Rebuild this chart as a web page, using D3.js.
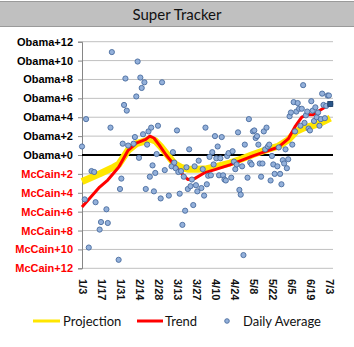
<!DOCTYPE html>
<html>
<head>
<meta charset="utf-8">
<script src="https://cdn.jsdelivr.net/npm/d3@7"></script>
<style>
	body { margin: 0; background: #fff; }
	svg { display: block; }
</style>
</head>
<body>
<div id="graphic-wrapper"></div>
<script>
/* global d3 */

// daily averages, margin in points (positive = Obama ahead, negative = McCain ahead)
const dailyDates = [
	"1/2", "1/4", "1/5", "1/7", "1/9", "1/11", "1/12", "1/15", "1/16", "1/20", "1/21", "1/23", "1/24", "1/29", "1/30", "1/31",
	"2/1", "2/2", "2/3", "2/4", "2/5", "2/9", "2/10", "2/11", "2/12", "2/13", "2/14", "2/15", "2/16", "2/17", "2/18", "2/19", "2/20", "2/21", "2/22", "2/23", "2/24", "2/25", "2/26", "2/27", "2/29",
	"3/1", "3/3", "3/6", "3/8", "3/9", "3/10", "3/11", "3/12", "3/13", "3/14", "3/15", "3/16", "3/17", "3/18", "3/19", "3/20", "3/21", "3/22", "3/23", "3/24", "3/25", "3/26", "3/27", "3/28", "3/30", "3/31",
	"4/1", "4/2", "4/3", "4/4", "4/5", "4/6", "4/7", "4/8", "4/9", "4/10", "4/11", "4/12", "4/13", "4/14", "4/15", "4/16", "4/17", "4/18", "4/19", "4/21", "4/22", "4/23", "4/24", "4/25", "4/26", "4/27", "4/28", "4/29", "4/30",
	"5/1", "5/3", "5/4", "5/5", "5/6", "5/7", "5/8", "5/9", "5/10", "5/11", "5/12", "5/13", "5/14", "5/15", "5/16", "5/17", "5/18", "5/19", "5/20", "5/21", "5/22", "5/23", "5/25", "5/26", "5/27", "5/28", "5/29", "5/30", "5/31",
	"6/1", "6/2", "6/3", "6/4", "6/5", "6/6", "6/7", "6/8", "6/9", "6/10", "6/11", "6/12", "6/13", "6/14", "6/15", "6/16", "6/17", "6/18", "6/19", "6/20", "6/21", "6/22", "6/23", "6/24", "6/25", "6/26", "6/27", "6/28", "6/29", "6/30",
	"7/1", "7/2", "7/3",
]
const dailyValues = [
	0.9, -4.7, 3.8, -9.8, -1.7, -1.8, -5.0, -7.9, -7.1, -5.75, -7.2, 2.9, 10.9, -11.1, -3.6, -2.5,
	1.2, 5.3, 8.1, 4.7, 1.0, 1.2, 1.9, 6.2, 9.9, -0.3, 8.2, 7.1, 2.2, 7.7, -3.6, 1.1, 2.5, -2.3, 2.9, -1.1, -3.85, -1.9, 0.1, 3.1, -4.6,
	7.7, -1.6, -4.3, -1.2, 0.3, -0.8, -1.4, 2.6, -1.8, -4.1, -1.7, -7.4, -2.3, -5.9, -1.3, -3.6, 0.6, -3.3, -2.6, -5.3, -1.2, -3.2, -3.85, -0.6, -3.5, -1.5,
	-4.3, 2.9, -3.1, -2.2, -0.2, -2.15, 0.3, -1.0, 2.0, -0.35, 0.9, -2.15, -0.35, 1.9, -2.15, -2.6, -2.7, -0.1, 0.2, -2.4, 0.4, -0.7, -1.5, -1.0, 2.4, -3.7, -4.2, -1.2, -10.6,
	1.1, -2.4, 3.8, -0.8, -1.0, 2.5, 2.6, 1.8, 2.0, 1.1, -0.9, -2.3, -0.9, 2.5, 0.6, 2.9, 0.9, 1.1, -2.7, -0.1, -1.0, -2.0, -1.2, 0.8, -2.0, -3.1, -0.55, -0.9, 0.6,
	-1.4, -0.45, 4.1, 4.5, 1.1, 5.6, 2.5, 4.6, 5.5, 4.9, 3.1, 4.9, 7.4, 3.4, 4.2, 4.6, 2.8, 2.6, 5.7, 4.7, 3.6, 5.05, 4.0, 4.5, 3.1, 3.8, 6.5, 5.3, 3.9, 5.2,
	6.3, 6.3, 5.4,
]

const trendDates = ["1/2", "1/15", "1/21", "1/29", "2/5", "2/11", "2/18", "2/21", "2/24", "2/28", "3/4", "3/10", "3/15", "3/20", "3/25", "4/1", "4/9", "4/20", "4/29", "5/7", "5/16", "5/26", "6/2", "6/7", "6/12", "6/17", "6/20", "6/24", "6/29", "7/3"]
const trendValues = [-5.5, -3.4, -2.65, -1.3, 0.5, 1.25, 1.65, 2.0, 1.8, 1.05, 0.0, -1.05, -1.9, -2.6, -2.5, -1.9, -1.55, -1.05, -0.55, -0.1, 0.35, 0.85, 1.7, 3.0, 4.0, 4.3, 4.25, 4.6, 5.05, 5.4]

const projectionDates = ["1/2", "1/15", "1/25", "1/29", "2/5", "2/11", "2/18", "2/21", "2/25", "2/29", "3/5", "3/10", "3/15", "3/20", "3/27", "4/3", "4/9", "4/20", "4/29", "5/7", "5/16", "5/26", "6/2", "6/8", "6/14", "6/20", "6/26", "7/3"]
const projectionValues = [-2.8, -2.0, -1.3, -1.0, 0.5, 1.2, 1.5, 1.7, 1.5, 0.9, 0.0, -0.9, -1.3, -1.5, -1.5, -1.45, -1.25, -0.85, -0.4, 0.05, 0.5, 0.95, 1.6, 2.5, 2.9, 3.1, 3.4, 3.9]

const xTickLabels = ["1/3", "1/17", "1/31", "2/14", "2/28", "3/13", "3/27", "4/10", "4/24", "5/8", "5/22", "6/5", "6/19", "7/3"]
const yTicks = [12, 10, 8, 6, 4, 2, 0, -2, -4, -6, -8, -10, -12]

const YEAR = 2008
const parseDate = d3.timeParse("%m/%d/%Y")
const toDate = s => parseDate(`${s}/${YEAR}`)
const dateAccessor = d => d.date
const valueAccessor = d => d.value
const marginLabel = v => v >= 0 ? `Obama+${v}` : `McCain+${-v}`

const zip = (dates, values) => dates.map((s, i) => ({ date: toDate(s), value: values[i] }))

function init() {
	const DIMENSIONS = {
		width: 354,
		height: 347,
		plot: { left: 82, right: 333, top: 41.7, bottom: 268.3 },
	}

	const wrapper = d3.select("#graphic-wrapper")
		.append("svg")
			.attr("width", DIMENSIONS.width)
			.attr("height", DIMENSIONS.height)
			.style("font-family", "'Liberation Sans', Arial, sans-serif")

	wrapper.append("rect")
		.attr("width", DIMENSIONS.width)
		.attr("height", DIMENSIONS.height)
		.attr("fill", "#fff")

	// title band
	wrapper.append("rect")
		.attr("x", 0)
		.attr("y", 1.5)
		.attr("width", DIMENSIONS.width)
		.attr("height", 25)
		.attr("fill", "#c0c0c0")
	wrapper.selectAll(".title-rule")
		.data([1.5, 26.5])
		.join("line")
			.attr("class", "title-rule")
			.attr("x1", 0)
			.attr("x2", DIMENSIONS.width)
			.attr("y1", d => d)
			.attr("y2", d => d)
			.attr("stroke", "#9a9a9a")
			.attr("stroke-width", 1)
	wrapper.append("text")
		.attr("x", 177)
		.attr("y", 19.5)
		.attr("text-anchor", "middle")
		.style("font-family", "Lato, 'Open Sans', sans-serif")
		.style("font-size", "15px")
		.attr("fill", "#111")
		.text("Super Tracker")

	const plot = DIMENSIONS.plot
	const xScale = d3.scaleTime()
		.domain([toDate("1/2"), toDate("7/5")])
		.range([plot.left, plot.right])
	const yScale = d3.scaleLinear()
		.domain([-12, 12])
		.range([plot.bottom, plot.top])

	const bounds = wrapper.append("g")

	// horizontal gridlines
	bounds.selectAll(".grid-line")
		.data(yTicks.filter(d => d !== 0))
		.join("line")
			.attr("class", "grid-line")
			.attr("x1", plot.left)
			.attr("x2", plot.right)
			.attr("y1", d => yScale(d))
			.attr("y2", d => yScale(d))
			.attr("stroke", "#c0c0c0")
			.attr("stroke-width", 1)

	// y axis with outside ticks
	const yAxis = d3.axisLeft(yScale)
		.tickValues(yTicks)
		.tickSize(4)
		.tickPadding(5)
		.tickFormat(marginLabel)
	const yAxisGroup = bounds.append("g")
		.attr("transform", `translate(${plot.left},0)`)
		.call(yAxis)
	yAxisGroup.select(".domain").attr("stroke", "#868686")
	yAxisGroup.selectAll(".tick line").attr("stroke", "#868686")
	yAxisGroup.selectAll(".tick text")
		.style("font-family", "'Liberation Sans', Arial, sans-serif")
		.style("font-size", "11px")
		.style("font-weight", "bold")
		.attr("fill", d => d < 0 ? "#ff0000" : "#000")

	// even line
	bounds.append("line")
		.attr("x1", plot.left)
		.attr("x2", plot.right)
		.attr("y1", yScale(0))
		.attr("y2", yScale(0))
		.attr("stroke", "#000")
		.attr("stroke-width", 2)

	// x tick labels, rotated to read downward
	bounds.selectAll(".x-label")
		.data(xTickLabels)
		.join("text")
			.attr("class", "x-label")
			.attr("transform", d => `translate(${xScale(toDate(d))},279) rotate(90)`)
			.attr("dy", "0.35em")
			.style("font-size", "11px")
			.style("font-weight", "bold")
			.attr("fill", "#111")
			.text(d => d)

	const lineGenerator = d3.line()
		.x(d => xScale(dateAccessor(d)))
		.y(d => yScale(valueAccessor(d)))

	bounds.append("path")
		.datum(zip(projectionDates, projectionValues))
		.attr("d", lineGenerator)
		.attr("fill", "none")
		.attr("stroke", "#ffe600")
		.attr("stroke-width", 7)
		.attr("stroke-linejoin", "round")

	const trend = zip(trendDates, trendValues)
	bounds.append("path")
		.datum(trend)
		.attr("d", lineGenerator)
		.attr("fill", "none")
		.attr("stroke", "#ff0000")
		.attr("stroke-width", 3)
		.attr("stroke-linejoin", "round")

	bounds.selectAll(".daily")
		.data(zip(dailyDates, dailyValues))
		.join("circle")
			.attr("class", "daily")
			.attr("cx", d => xScale(dateAccessor(d)))
			.attr("cy", d => yScale(valueAccessor(d)))
			.attr("r", 2.6)
			.attr("fill", "#93b0da")
			.attr("stroke", "#4a6c9e")
			.attr("stroke-width", 0.9)

	// latest trend reading
	const last = trend[trend.length - 1]
	bounds.append("rect")
		.attr("x", xScale(dateAccessor(last)) - 2.5)
		.attr("y", yScale(valueAccessor(last)) - 2.5)
		.attr("width", 5)
		.attr("height", 5)
		.attr("fill", "#2a5689")
		.attr("stroke", "#1c3d66")
		.attr("stroke-width", 0.8)

	// legend
	const legend = wrapper.append("g")
		.style("font-family", "Lato, 'Open Sans', sans-serif")
		.style("font-size", "13px")
	legend.append("line")
		.attr("x1", 33).attr("x2", 60)
		.attr("y1", 321).attr("y2", 321)
		.attr("stroke", "#ffe600")
		.attr("stroke-width", 3)
	legend.append("text")
		.attr("x", 63).attr("y", 326)
		.attr("fill", "#111")
		.text("Projection")
	legend.append("line")
		.attr("x1", 137).attr("x2", 163)
		.attr("y1", 321).attr("y2", 321)
		.attr("stroke", "#ff0000")
		.attr("stroke-width", 3)
	legend.append("text")
		.attr("x", 165).attr("y", 326)
		.attr("fill", "#111")
		.text("Trend")
	legend.append("circle")
		.attr("cx", 227).attr("cy", 321)
		.attr("r", 2.3)
		.attr("fill", "#93b0da")
		.attr("stroke", "#4a6c9e")
		.attr("stroke-width", 0.9)
	legend.append("text")
		.attr("x", 243).attr("y", 326)
		.attr("fill", "#111")
		.text("Daily Average")
}

init()
</script>
</body>
</html>
